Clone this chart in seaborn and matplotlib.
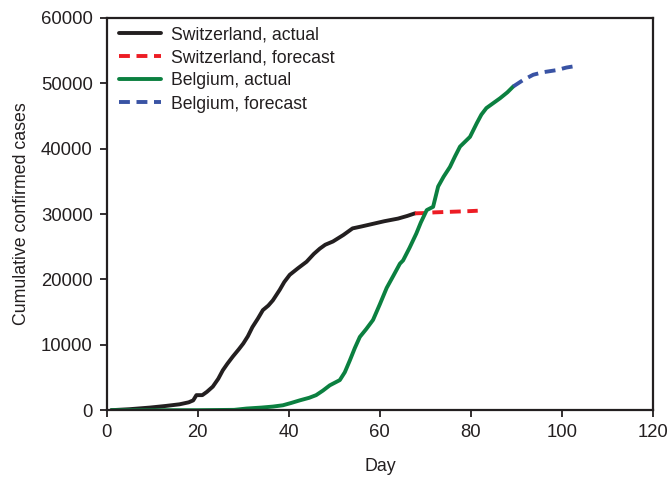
import pandas as pd
import matplotlib
matplotlib.use("Agg")
import matplotlib.pyplot as plt
import seaborn as sns

# -------------------------
# Data
# -------------------------
ch_days = [1, 5, 9.5, 13, 16, 18, 19, 19.7, 21, 22, 23.3, 24.5, 25.5, 26.5, 27.7, 29, 30, 31,
           32, 33.2, 34.3, 35.5, 36.5, 38, 39, 40.2, 42, 43.9, 45.5, 46.8, 48, 49.7, 52, 54,
           56, 58.5, 61, 64, 66, 67.7]
ch_actual = [0, 150, 400, 650, 900, 1200, 1500, 2300, 2300, 2800, 3600, 4800, 6100, 7100, 8200,
             9300, 10200, 11300, 12700, 14000, 15300, 16000, 16800, 18400, 19600, 20700, 21700,
             22700, 23900, 24700, 25300, 25800, 26800, 27800, 28100, 28500, 28900, 29300,
             29700, 30100]

ch_fc_days = [67.7, 70, 72, 74, 76, 78, 80, 81.5]
ch_forecast = [30100, 30150, 30250, 30300, 30350, 30400, 30450, 30500]

be_days = [1, 10, 20, 28, 30.7, 34, 36.5, 38.7, 40.5, 42.4, 44.5, 46, 47.5, 49, 51.2, 52.3,
           53.4, 54.5, 55.6, 57, 58.5, 60, 61.5, 63, 64.4, 65.1, 66.5, 68, 69, 70.3, 71.7,
           72.8, 74, 75.4, 76.5, 77.6, 79.8, 81.3, 82.3, 83.4, 85, 86.4, 88, 89.3]
be_actual = [0, 0, 0, 50, 250, 400, 550, 750, 1100, 1500, 1900, 2300, 3000, 3800, 4600, 5800,
             7600, 9500, 11200, 12400, 13800, 16200, 18700, 20600, 22400, 22900, 24800, 27000,
             28700, 30600, 31100, 34200, 35700, 37200, 38800, 40300, 41800, 43900, 45200,
             46200, 47000, 47700, 48600, 49500]

be_fc_days = [89.3, 91.5, 93.7, 96, 98.8, 101, 103.6]
be_forecast = [49500, 50500, 51300, 51700, 52000, 52400, 52700]

labels = ["Switzerland, actual", "Switzerland, forecast", "Belgium, actual", "Belgium, forecast"]
colors = ["#231f20", "#ed1c24", "#0b8040", "#3953a4"]

# -------------------------
# Build long table
# -------------------------
parts = []
for d, v, lab in [(ch_days, ch_actual, labels[0]), (ch_fc_days, ch_forecast, labels[1]),
                  (be_days, be_actual, labels[2]), (be_fc_days, be_forecast, labels[3])]:
    parts.append(pd.DataFrame({"Day": d, "Cases": v, "Series": lab}))
df = pd.concat(parts, ignore_index=True)

# -------------------------
# Plot
# -------------------------
sns.set_style("ticks")
plt.rcParams["font.family"] = ["Liberation Sans", "DejaVu Sans"]

fig = plt.figure(figsize=(6.67, 4.82), dpi=100)
ax = fig.add_axes([0.160, 0.149, 0.819, 0.814])

sns.lineplot(data=df, x="Day", y="Cases", hue="Series", style="Series",
             hue_order=labels, style_order=labels,
             palette=dict(zip(labels, colors)),
             dashes={labels[0]: "", labels[1]: (2.8, 1.7), labels[2]: "", labels[3]: (2.8, 1.7)},
             linewidth=2.8, sort=False, estimator=None, ax=ax)

ax.set_xlim(0, 120)
ax.set_ylim(0, 60000)
ax.set_xticks(range(0, 121, 20))
ax.set_yticks(range(0, 60001, 10000))
ax.set_xlabel("Day", fontsize=12.8, color="#231f20", labelpad=12)
ax.set_ylabel("Cumulative confirmed cases", fontsize=12.8, color="#231f20", labelpad=8)
ax.tick_params(labelsize=13.3, colors="#231f20", length=5, width=1.3, direction="out", pad=5)
for s in ax.spines.values():
    s.set_visible(True)
    s.set_linewidth(1.6)
    s.set_color("#231f20")

leg = ax.legend(loc="upper left", bbox_to_anchor=(0.009, 0.997), frameon=False,
                fontsize=12.7, handlelength=2.4, handletextpad=0.57, labelspacing=0.35,
                borderaxespad=0.0)
for t in leg.get_texts():
    t.set_color("#231f20")

fig.savefig("out.png", dpi=100)
